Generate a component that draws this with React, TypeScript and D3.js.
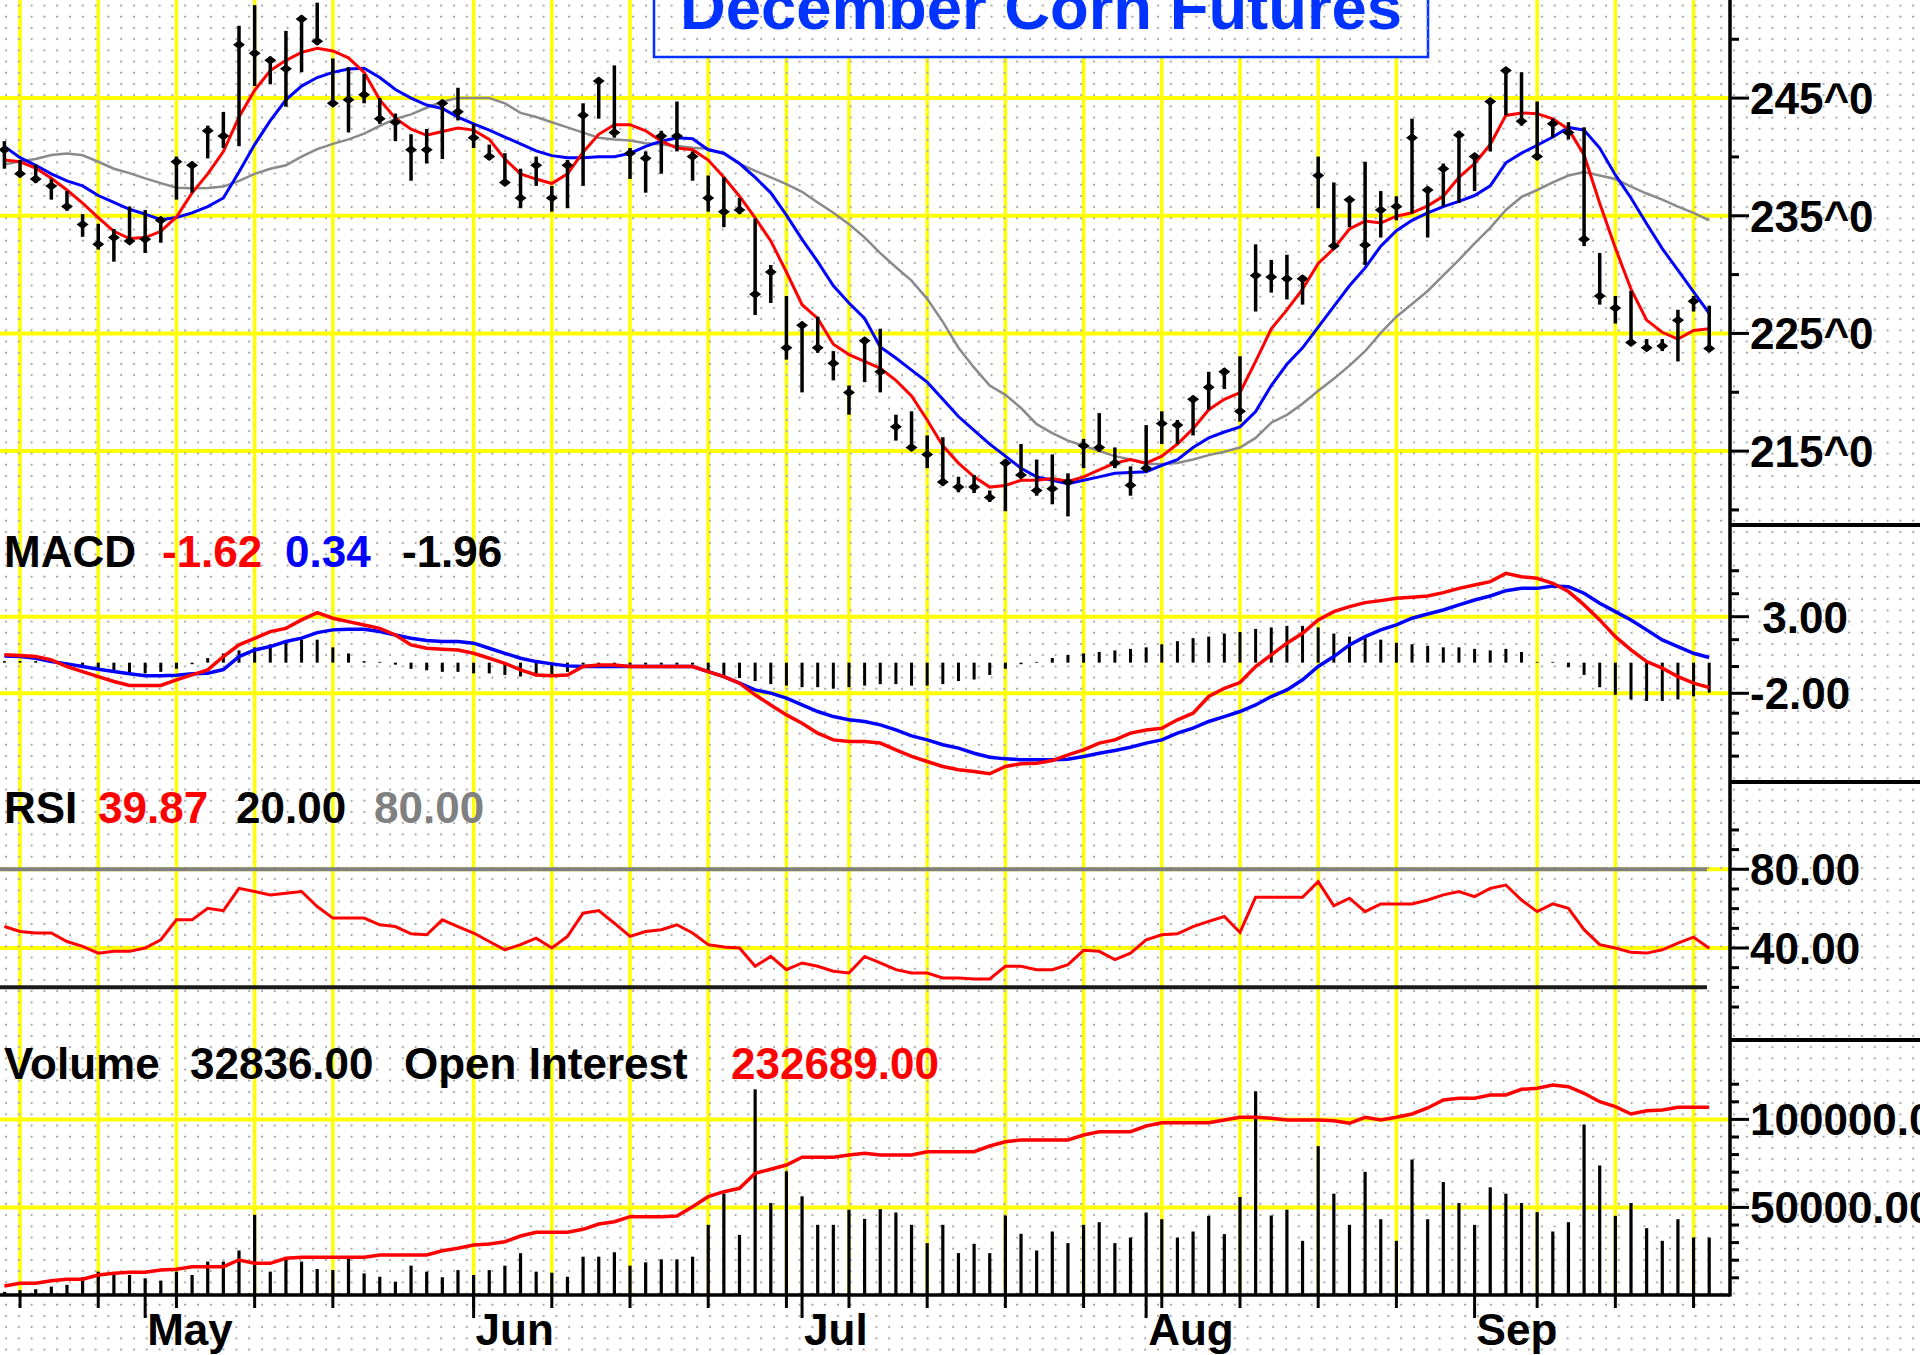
import React from "react";
import * as d3 from "d3";

// ---------------- DATA ----------------
const high = [
  241.34, 239.74, 239.36, 238.13, 237.10, 235.14, 234.32, 233.88, 235.79, 235.49,
  234.85, 240.03, 239.59, 242.66, 243.83, 251.15, 252.90, 248.51, 250.71, 252.02,
  253.11, 248.37, 247.63, 247.05, 245.00, 243.69, 241.93, 242.37, 244.86, 245.88,
  242.81, 241.05, 240.32, 239.00, 240.03, 237.54, 239.74, 244.56, 246.61, 247.78,
  240.76, 240.47, 242.22, 244.71, 240.47, 238.42, 238.27, 236.52, 234.76, 230.81,
  228.18, 225.98, 226.42, 223.50, 220.57, 224.67, 225.40, 218.09, 218.38, 216.33,
  216.18, 212.82, 212.97, 211.65, 214.28, 215.60, 214.28, 214.72, 213.11, 216.04,
  218.23, 215.31, 213.70, 217.21, 218.38, 217.65, 219.69, 221.74, 222.04, 223.06,
  232.57, 231.25, 231.69, 229.93, 240.03, 237.83, 236.52, 239.59, 237.10, 236.66,
  243.25, 237.39, 239.44, 242.22, 240.17, 244.86, 247.49, 247.20, 244.71, 243.25,
  242.95, 242.52, 231.84, 228.18, 228.62, 224.52, 224.52, 227.01, 228.18, 227.36,
];
const low = [
  239.00, 238.27, 237.78, 236.37, 235.43, 233.21, 232.13, 231.10, 232.57, 231.84,
  232.71, 236.37, 236.96, 239.88, 240.76, 240.91, 246.03, 246.17, 244.27, 247.20,
  249.54, 244.27, 242.08, 244.56, 242.81, 241.34, 237.98, 239.44, 239.82, 243.10,
  240.76, 239.74, 237.54, 235.64, 237.54, 235.35, 235.64, 237.54, 243.25, 241.64,
  238.13, 236.96, 238.57, 240.47, 237.98, 235.35, 234.03, 235.14, 226.57, 227.59,
  222.77, 219.99, 223.35, 221.01, 218.09, 220.86, 219.99, 215.89, 215.01, 213.55,
  212.09, 211.50, 211.44, 210.68, 209.89, 212.82, 211.21, 210.48, 209.45, 213.55,
  214.95, 213.55, 211.21, 213.26, 215.60, 215.60, 216.33, 218.52, 220.28, 217.50,
  226.86, 228.47, 227.89, 227.45, 235.64, 232.27, 234.03, 230.81, 233.15, 234.61,
  235.20, 233.15, 235.79, 236.08, 237.10, 240.47, 243.54, 242.66, 239.74, 241.64,
  241.49, 232.42, 227.45, 225.84, 224.08, 223.50, 223.50, 222.62, 226.86, 223.50,
];
const close = [
  240.61, 238.57, 238.13, 237.54, 235.79, 234.26, 232.57, 233.15, 232.86, 233.01,
  234.61, 239.59, 239.30, 242.22, 241.78, 249.54, 248.81, 248.22, 247.49, 251.73,
  249.83, 244.56, 244.86, 245.29, 243.25, 242.95, 240.61, 240.61, 244.56, 243.83,
  241.64, 240.03, 237.83, 236.52, 239.30, 236.52, 239.30, 243.54, 246.46, 242.08,
  240.32, 239.88, 241.78, 241.78, 240.03, 236.52, 235.35, 235.49, 228.33, 230.23,
  223.79, 225.69, 223.79, 222.47, 219.99, 224.38, 221.74, 217.06, 215.31, 214.72,
  212.38, 211.94, 211.94, 211.06, 213.99, 212.97, 211.65, 211.80, 212.38, 215.45,
  215.31, 213.99, 212.09, 213.55, 217.35, 217.21, 219.40, 220.43, 221.74, 218.38,
  229.93, 229.79, 229.64, 229.64, 238.42, 232.42, 236.37, 232.51, 235.49, 235.79,
  241.64, 237.19, 239.00, 241.87, 240.03, 244.71, 247.34, 243.04, 240.03, 242.81,
  242.08, 233.01, 228.18, 227.16, 224.23, 223.79, 223.94, 226.13, 227.74, 223.73,
];
const maFast = [
  239.73, 239.59, 239.06, 238.18, 237.19, 236.07, 234.85, 233.68, 233.06, 233.15,
  233.68, 234.90, 236.95, 238.56, 240.46, 243.39, 245.67, 247.34, 248.21, 248.89,
  249.24, 249.01, 248.42, 247.19, 244.85, 243.30, 242.36, 241.84, 242.16, 242.45,
  242.28, 241.49, 239.82, 238.56, 238.12, 237.74, 238.56, 240.40, 241.92, 242.74,
  242.74, 242.22, 241.34, 240.75, 240.61, 239.73, 238.27, 236.66, 234.82, 232.86,
  230.22, 227.44, 226.27, 224.08, 223.20, 222.62, 222.03, 221.01, 219.69, 217.64,
  215.45, 213.98, 212.81, 211.94, 212.08, 212.52, 212.52, 212.67, 212.43, 212.81,
  213.40, 213.98, 214.28, 213.98, 214.57, 215.60, 216.91, 218.52, 219.40, 219.98,
  222.62, 225.39, 227.00, 228.76, 230.95, 232.21, 233.88, 234.55, 234.38, 234.96,
  235.25, 235.84, 236.66, 238.27, 239.44, 241.05, 243.53, 243.74, 243.68, 243.24,
  242.36, 240.17, 236.07, 232.27, 228.76, 226.13, 225.10, 224.52, 225.25, 225.40,
];
const maMid = [
  240.90, 239.94, 239.29, 238.56, 237.97, 237.54, 236.72, 236.13, 235.55, 235.14,
  234.67, 234.85, 235.25, 235.78, 236.51, 238.71, 241.05, 243.09, 244.85, 246.02,
  246.75, 247.19, 247.48, 247.54, 246.75, 245.73, 245.00, 244.41, 244.12, 243.39,
  242.80, 242.28, 241.69, 241.11, 240.52, 240.11, 239.94, 239.94, 240.02, 240.02,
  240.30, 240.90, 241.34, 241.63, 241.54, 240.61, 240.32, 239.44, 238.27, 236.95,
  235.05, 233.00, 231.10, 229.05, 227.59, 226.27, 223.84, 222.91, 221.88, 220.86,
  219.40, 217.94, 216.76, 215.59, 214.57, 213.54, 212.81, 212.52, 212.23, 212.52,
  212.81, 213.11, 213.19, 213.25, 213.78, 214.28, 215.30, 216.12, 216.62, 217.06,
  218.37, 220.57, 222.38, 223.78, 225.54, 227.30, 229.05, 230.57, 232.42, 233.73,
  234.61, 235.25, 235.78, 236.22, 236.72, 237.54, 239.50, 240.32, 240.99, 241.69,
  242.51, 242.28, 240.75, 238.47, 236.51, 234.32, 232.21, 230.37, 228.53, 226.71,
];
const maSlow = [
  239.35, 239.64, 239.82, 240.17, 240.29, 240.14, 239.59, 239.00, 238.62, 238.18,
  237.77, 237.39, 237.33, 237.36, 237.48, 237.97, 238.56, 239.00, 239.29, 240.02,
  240.67, 241.11, 241.49, 241.98, 242.63, 243.24, 243.62, 244.18, 244.70, 245.00,
  245.00, 245.00, 244.56, 243.74, 243.39, 242.95, 242.51, 242.07, 241.63, 241.49,
  241.40, 241.16, 241.05, 240.93, 240.78, 240.70, 240.26, 239.44, 238.82, 238.27,
  237.68, 237.04, 236.13, 235.25, 234.29, 233.15, 231.83, 230.63, 229.49, 227.94,
  225.98, 223.79, 222.09, 220.57, 219.78, 218.66, 217.29, 216.53, 215.89, 215.45,
  215.01, 214.57, 214.28, 213.90, 213.90, 213.99, 214.28, 214.66, 214.95, 215.30,
  216.12, 217.41, 218.08, 219.02, 220.13, 221.15, 222.26, 223.49, 225.04, 226.42,
  227.50, 228.61, 229.93, 231.25, 232.65, 233.97, 235.49, 236.60, 237.19, 237.83,
  238.42, 238.71, 238.42, 238.12, 237.48, 236.89, 236.37, 235.78, 235.25, 234.61,
];
const macd = [
  0.51, 0.46, 0.40, 0.18, -0.25, -0.58, -0.91, -1.23, -1.49, -1.49,
  -1.49, -1.12, -0.80, -0.47, 0.40, 1.16, 1.59, 2.03, 2.24, 2.79,
  3.27, 2.90, 2.68, 2.46, 2.24, 1.81, 1.16, 0.94, 0.88, 0.83,
  0.61, 0.29, -0.04, -0.47, -0.80, -0.86, -0.80, -0.25, -0.15, -0.15,
  -0.25, -0.25, -0.25, -0.25, -0.25, -0.58, -0.91, -1.34, -2.10, -2.76,
  -3.41, -3.95, -4.60, -5.04, -5.15, -5.15, -5.25, -5.69, -6.12, -6.45,
  -6.78, -6.99, -7.10, -7.25, -6.78, -6.60, -6.56, -6.39, -6.02, -5.69,
  -5.25, -5.04, -4.60, -4.39, -4.28, -3.73, -3.30, -2.21, -1.67, -1.30,
  -0.25, 0.51, 1.27, 1.92, 2.79, 3.33, 3.66, 3.92, 4.05, 4.20,
  4.27, 4.35, 4.57, 4.85, 5.07, 5.29, 5.83, 5.61, 5.51, 5.18,
  4.64, 3.77, 2.79, 1.70, 0.83, 0.07, -0.36, -0.91, -1.34, -1.62,
];
const signal = [
  0.44, 0.40, 0.29, 0.07, -0.08, -0.25, -0.43, -0.58, -0.73, -0.86,
  -0.86, -0.82, -0.73, -0.69, -0.45, 0.40, 0.83, 1.05, 1.38, 1.60,
  1.96, 2.14, 2.18, 2.18, 2.03, 1.81, 1.59, 1.44, 1.38, 1.38,
  1.27, 0.94, 0.61, 0.29, 0.07, -0.08, -0.21, -0.25, -0.25, -0.25,
  -0.25, -0.25, -0.25, -0.25, -0.25, -0.58, -0.91, -1.34, -1.78, -1.99,
  -2.32, -2.76, -3.19, -3.52, -3.73, -3.84, -4.06, -4.39, -4.78, -5.04,
  -5.36, -5.58, -5.91, -6.17, -6.28, -6.34, -6.34, -6.34, -6.30, -6.12,
  -5.91, -5.73, -5.52, -5.25, -5.04, -4.60, -4.28, -3.84, -3.52, -3.19,
  -2.76, -2.21, -1.78, -1.12, -0.25, 0.40, 1.16, 1.70, 2.14, 2.46,
  2.90, 3.18, 3.44, 3.77, 4.09, 4.35, 4.70, 4.85, 4.85, 5.01,
  4.96, 4.53, 3.88, 3.33, 2.79, 2.14, 1.48, 1.05, 0.61, 0.34,
];
const histogram = [
  0.1, 0.1, 0.1, 0.05, -0.2, -0.3, -0.5, -0.6, -0.7, -0.7,
  -0.6, -0.4, -0.1, 0.3, 0.6, 0.8, 1.0, 1.2, 1.3, 1.5,
  1.5, 1.0, 0.6, 0.1, 0.05, 0.0, -0.4, -0.5, -0.6, -0.6,
  -0.7, -0.7, -0.8, -0.9, -0.9, -0.8, -0.6, 0, 0, 0,
  0, 0, 0, 0, 0, -0.6, -0.8, -1.0, -1.2, -1.4,
  -1.5, -1.6, -1.6, -1.7, -1.6, -1.5, -1.4, -1.4, -1.5, -1.5,
  -1.4, -1.2, -1.1, -0.8, -0.4, -0.1, 0.05, 0.3, 0.5, 0.6,
  0.7, 0.8, 0.9, 1.0, 1.2, 1.4, 1.6, 1.7, 1.9, 2.0,
  2.2, 2.3, 2.4, 2.4, 2.3, 1.9, 1.7, 1.6, 1.5, 1.3,
  1.2, 1.1, 1.0, 1.0, 0.9, 0.8, 0.9, 0.7, 0.05, 0.05,
  -0.3, -0.8, -1.6, -2.1, -2.4, -2.5, -2.5, -2.4, -2.2, -1.96,
];
const rsi = [
  50.9, 48.4, 47.6, 47.6, 43.3, 40.8, 37.4, 38.3, 38.3, 40.0,
  44.2, 54.3, 54.3, 60.2, 59.0, 70.3, 68.7, 67.0, 67.8, 68.7,
  61.1, 55.2, 55.2, 55.2, 51.8, 50.9, 47.2, 46.7, 54.3, 50.9,
  47.6, 43.3, 39.1, 41.7, 45.0, 40.0, 45.9, 57.7, 59.0, 52.6,
  45.9, 48.4, 49.3, 51.8, 47.6, 41.7, 40.5, 40.0, 30.7, 35.7,
  29.0, 32.4, 30.7, 28.2, 27.3, 35.7, 32.4, 29.0, 27.3, 27.3,
  24.8, 24.8, 24.3, 24.3, 30.7, 30.7, 29.0, 29.0, 31.5, 38.8,
  38.3, 34.1, 37.4, 44.2, 46.7, 47.2, 50.9, 53.5, 56.0, 47.9,
  65.8, 65.8, 65.8, 65.8, 73.7, 61.4, 65.3, 58.5, 62.4, 62.4,
  62.4, 64.4, 67.0, 68.7, 66.1, 70.3, 72.0, 64.4, 58.5, 62.4,
  60.2, 49.3, 41.7, 40.0, 37.8, 37.4, 39.1, 42.5, 45.5, 39.87,
];
const volume = [
  2000, 3000, 3500, 5000, 6000, 10300, 13500, 11600, 11600, 9700,
  8400, 13500, 11600, 19200, 19200, 25500, 45800, 13500, 21700, 19200,
  15000, 14400, 21700, 12500, 10600, 7800, 16900, 13500, 10300, 14400,
  11600, 14400, 16900, 24000, 13500, 12900, 10600, 22000, 22000, 24500,
  16900, 18800, 20500, 20500, 22000, 40100, 57800, 34400, 117100, 52500,
  70500, 56300, 40100, 40100, 48700, 43500, 49000, 47100, 40100, 29700,
  40100, 24000, 29300, 24000, 45400, 35000, 25500, 36300, 29700, 40100,
  41600, 29700, 32900, 47100, 43300, 32900, 36300, 45200, 34800, 55900,
  116000, 45400, 48700, 31000, 84800, 57800, 40100, 70200, 43300, 31000,
  77200, 43300, 64400, 52500, 40100, 61400, 57800, 52500, 47300, 36300,
  41600, 97100, 73800, 45200, 52500, 38200, 31000, 43300, 32900, 32836,
];
const openInterest = [
  54000, 56700, 56700, 59300, 60700, 60700, 65000, 66700, 67700, 67700,
  70000, 70700, 73300, 73300, 73300, 80000, 76700, 76700, 81700, 82700,
  82700, 82700, 82700, 82700, 85000, 85000, 85000, 85000, 89300, 91700,
  95000, 96000, 98300, 104000, 107700, 107700, 107700, 110700, 116000, 118300,
  123300, 123300, 123300, 124000, 133300, 143300, 148300, 151700, 166700, 170700,
  175000, 182700, 182700, 182700, 185000, 186700, 185000, 185000, 185000, 188300,
  188300, 188300, 188300, 194000, 198300, 200000, 200000, 200000, 200000, 205000,
  208300, 208300, 208300, 214000, 217300, 217300, 217300, 217300, 220000, 222700,
  222700, 221700, 220000, 220000, 220000, 219300, 216700, 222700, 220000, 222700,
  226000, 232000, 240000, 241700, 241700, 245000, 245000, 250700, 251700, 255000,
  253300, 246700, 238300, 233300, 226000, 229300, 230000, 232700, 232700, 232689,
];

const weekGridIdx = [1, 6, 11, 16, 21, 30, 35, 40, 45, 50, 54, 59, 64, 69, 74, 79, 84, 89, 98, 103, 108];
const monthNames = ["May", "Jun", "Jul", "Aug", "Sep"];
const monthIdx = [9, 30, 51, 73, 94];

const priceMajor = [245, 235, 225, 215];
const priceLabels = ["245^0", "235^0", "225^0", "215^0"];
const priceMinor = [250, 240, 230, 220, 210];
const macdMajor = [3, -2];
const macdLabels = ["\u00a03.00", "-2.00"];
const macdMinor = [6, 4.5, 1.5, -0.25, -3.3, -4.6, -6.1];
const rsiMajor = [80, 40];
const rsiLabels = ["80.00", "40.00"];
const rsiMinor = [100, 90, 70, 60, 50, 30, 20, 10];
const volMajor = [100000, 50000];
const volLabels = ["100000.00", "50000.00"];
const volMinor = [120000, 110000, 90000, 80000, 70000, 60000, 40000, 30000, 20000, 10000];

const macdLegend = [
  { t: "MACD", c: "#000" },
  { t: "-1.62", c: "#ff0000" },
  { t: "0.34", c: "#0000ff" },
  { t: "-1.96", c: "#000" },
];
const rsiLegend = [
  { t: "RSI", c: "#000" },
  { t: "39.87", c: "#ff0000" },
  { t: "20.00", c: "#000" },
  { t: "80.00", c: "#808080" },
];
const volLegend = [
  { t: "Volume", c: "#000" },
  { t: "32836.00", c: "#000" },
  { t: "Open Interest", c: "#000" },
  { t: "232689.00", c: "#ff0000" },
];

// ---------------- LAYOUT ----------------
const W = 1920;
const H = 1355;
const AXIS_X = 1730;
const AXIS_BOTTOM = 1295;
const FONT = "'Liberation Sans', Arial, Helvetica, sans-serif";
const YELLOW = "#ffff00";

export default function App() {
  const n = close.length;
  const x = d3.scaleLinear().domain([0, n - 1]).range([4.4, 1709.2]);
  const yP = d3.scaleLinear().domain([215, 245]).range([451.1, 98.1]);
  const yM = d3.scaleLinear().domain([-2, 3]).range([693.3, 616.7]);
  const yR = d3.scaleLinear().domain([40, 80]).range([948, 869.3]);
  const yV = d3.scaleLinear().domain([0, 100000]).range([1295.4, 1119.4]);
  const yOI = d3.scaleLinear().domain([44000, 240000]).range([1296, 1100]);

  const lineOf = (arr: number[], y: d3.ScaleLinear<number, number>) =>
    d3.line<number>().x((_, i) => x(i)).y((v) => y(v))(arr) || "";

  const legendX = {
    macd: [4, 162, 285, 402],
    rsi: [4, 98, 236, 374],
    vol: [4, 190, 404, 731],
  };

  const axisLabel = (y: number, t: string, key: string) => (
    <g key={key}>
      <line x1={AXIS_X} x2={AXIS_X + 19} y1={y} y2={y} stroke="#000" strokeWidth={3} />
      <text x={AXIS_X + 20} y={y} dy="0.36em" fontFamily={FONT} fontWeight="bold" fontSize={44} fill="#000">
        {t}
      </text>
    </g>
  );
  const minorTick = (y: number, key: string) => (
    <line key={key} x1={AXIS_X} x2={AXIS_X + 9} y1={y} y2={y} stroke="#000" strokeWidth={3} />
  );

  return (
    <div>
      <style>{"body{margin:0}"}</style>
      <svg width={W} height={H} style={{ display: "block" }}>
        <defs>
          <pattern id="dots" width={12.8} height={11.2} patternUnits="userSpaceOnUse">
            <rect x={5} y={4.5} width={2} height={2} fill="#a8a8a8" />
          </pattern>
        </defs>
        <rect x={0} y={0} width={W} height={H} fill="#fff" />

        {/* vertical grid */}
        {weekGridIdx.map((i) => (
          <line key={"vg" + i} x1={x(i)} x2={x(i)} y1={0} y2={AXIS_BOTTOM} stroke={YELLOW} strokeWidth={3.5} />
        ))}
        {/* horizontal grid */}
        {priceMajor.map((v) => (
          <line key={"pg" + v} x1={0} x2={AXIS_X} y1={yP(v)} y2={yP(v)} stroke={YELLOW} strokeWidth={4} />
        ))}
        {macdMajor.map((v) => (
          <line key={"mg" + v} x1={0} x2={AXIS_X} y1={yM(v)} y2={yM(v)} stroke={YELLOW} strokeWidth={4} />
        ))}
        {rsiMajor.map((v) => (
          <line key={"rg" + v} x1={0} x2={AXIS_X} y1={yR(v)} y2={yR(v)} stroke={YELLOW} strokeWidth={4} />
        ))}
        {volMajor.map((v) => (
          <line key={"vg2" + v} x1={0} x2={AXIS_X} y1={yV(v)} y2={yV(v)} stroke={YELLOW} strokeWidth={4} />
        ))}

        {/* title box */}
        <rect x={654} y={-20} width={774} height={77} fill="#fff" stroke="#0033ff" strokeWidth={2.5} />

        {/* dotted background */}
        <rect x={0} y={0} width={W} height={H} fill="url(#dots)" />

        <text x={680} y={29} fontFamily={FONT} fontWeight="bold" fontSize={63.4} fill="#0033ff">
          December Corn Futures
        </text>

        {/* RSI reference lines */}
        <line x1={0} x2={1707} y1={yR(80)} y2={yR(80)} stroke="#808080" strokeWidth={4} />
        <line x1={0} x2={1707} y1={yR(20)} y2={yR(20)} stroke="#1a1a1a" strokeWidth={4} />

        {/* moving averages */}
        <path d={lineOf(maSlow, yP)} fill="none" stroke="#8a8a8a" strokeWidth={2.5} />
        <path d={lineOf(maMid, yP)} fill="none" stroke="#0000ff" strokeWidth={3} />
        <path d={lineOf(maFast, yP)} fill="none" stroke="#ff0000" strokeWidth={3} />

        {/* price bars */}
        {close.map((c, i) => {
          const cx = x(i);
          const cy = yP(c);
          return (
            <g key={"b" + i}>
              <line x1={cx} x2={cx} y1={yP(high[i])} y2={yP(low[i])} stroke="#000" strokeWidth={3.5} />
              <path
                d={`M${cx - 6},${cy} L${cx},${cy - 4.5} L${cx + 6},${cy} L${cx},${cy + 4.5} Z`}
                fill="#000"
              />
            </g>
          );
        })}

        {/* MACD histogram */}
        {histogram.map((h, i) => (
          <line key={"h" + i} x1={x(i)} x2={x(i)} y1={yM(0)} y2={yM(h) + (h === 0 ? 2 : 0)} stroke="#000" strokeWidth={3} />
        ))}
        <path d={lineOf(signal, yM)} fill="none" stroke="#0000ff" strokeWidth={3.5} />
        <path d={lineOf(macd, yM)} fill="none" stroke="#ff0000" strokeWidth={3.5} />

        {/* RSI */}
        <path d={lineOf(rsi, yR)} fill="none" stroke="#ff0000" strokeWidth={3} />

        {/* Volume */}
        {volume.map((v, i) => (
          <line key={"v" + i} x1={x(i)} x2={x(i)} y1={yV(0)} y2={yV(v)} stroke="#000" strokeWidth={3.2} />
        ))}
        <path d={lineOf(openInterest, yOI)} fill="none" stroke="#ff0000" strokeWidth={3.5} />

        {/* legends */}
        {macdLegend.map((d, k) => (
          <text key={"ml" + k} x={legendX.macd[k]} y={567} fontFamily={FONT} fontWeight="bold" fontSize={44} fill={d.c}>
            {d.t}
          </text>
        ))}
        {rsiLegend.map((d, k) => (
          <text key={"rl" + k} x={legendX.rsi[k]} y={823} fontFamily={FONT} fontWeight="bold" fontSize={44} fill={d.c}>
            {d.t}
          </text>
        ))}
        {volLegend.map((d, k) => (
          <text key={"vl" + k} x={legendX.vol[k]} y={1079} fontFamily={FONT} fontWeight="bold" fontSize={44} fill={d.c}>
            {d.t}
          </text>
        ))}

        {/* right axis */}
        <line x1={AXIS_X} x2={AXIS_X} y1={0} y2={AXIS_BOTTOM + 1.5} stroke="#000" strokeWidth={3.5} />
        {[525, 782, 1040].map((y) => (
          <line key={"sep" + y} x1={AXIS_X} x2={W} y1={y} y2={y} stroke="#000" strokeWidth={4} />
        ))}
        {priceMajor.map((v, k) => axisLabel(yP(v), priceLabels[k], "pl" + v))}
        {priceMinor.map((v) => minorTick(yP(v), "pm" + v))}
        {macdMajor.map((v, k) => axisLabel(yM(v), macdLabels[k], "ml2" + v))}
        {macdMinor.map((v) => minorTick(yM(v), "mm" + v))}
        {rsiMajor.map((v, k) => axisLabel(yR(v), rsiLabels[k], "rl2" + v))}
        {rsiMinor.map((v) => minorTick(yR(v), "rm" + v))}
        {volMajor.map((v, k) => axisLabel(yV(v), volLabels[k], "vl2" + v))}
        {volMinor.map((v) => minorTick(yV(v), "vm" + v))}

        {/* bottom axis */}
        <line x1={0} x2={AXIS_X} y1={AXIS_BOTTOM} y2={AXIS_BOTTOM} stroke="#000" strokeWidth={3.5} />
        {weekGridIdx.map((i) => (
          <line key={"wt" + i} x1={x(i)} x2={x(i)} y1={AXIS_BOTTOM} y2={AXIS_BOTTOM + 13} stroke="#000" strokeWidth={3} />
        ))}
        {monthIdx.map((i, k) => (
          <g key={"mt" + i}>
            <line x1={x(i)} x2={x(i)} y1={AXIS_BOTTOM} y2={AXIS_BOTTOM + 23} stroke="#000" strokeWidth={3} />
            <text x={x(i) + 2} y={1345} fontFamily={FONT} fontWeight="bold" fontSize={44} fill="#000">
              {monthNames[k]}
            </text>
          </g>
        ))}
      </svg>
    </div>
  );
}
